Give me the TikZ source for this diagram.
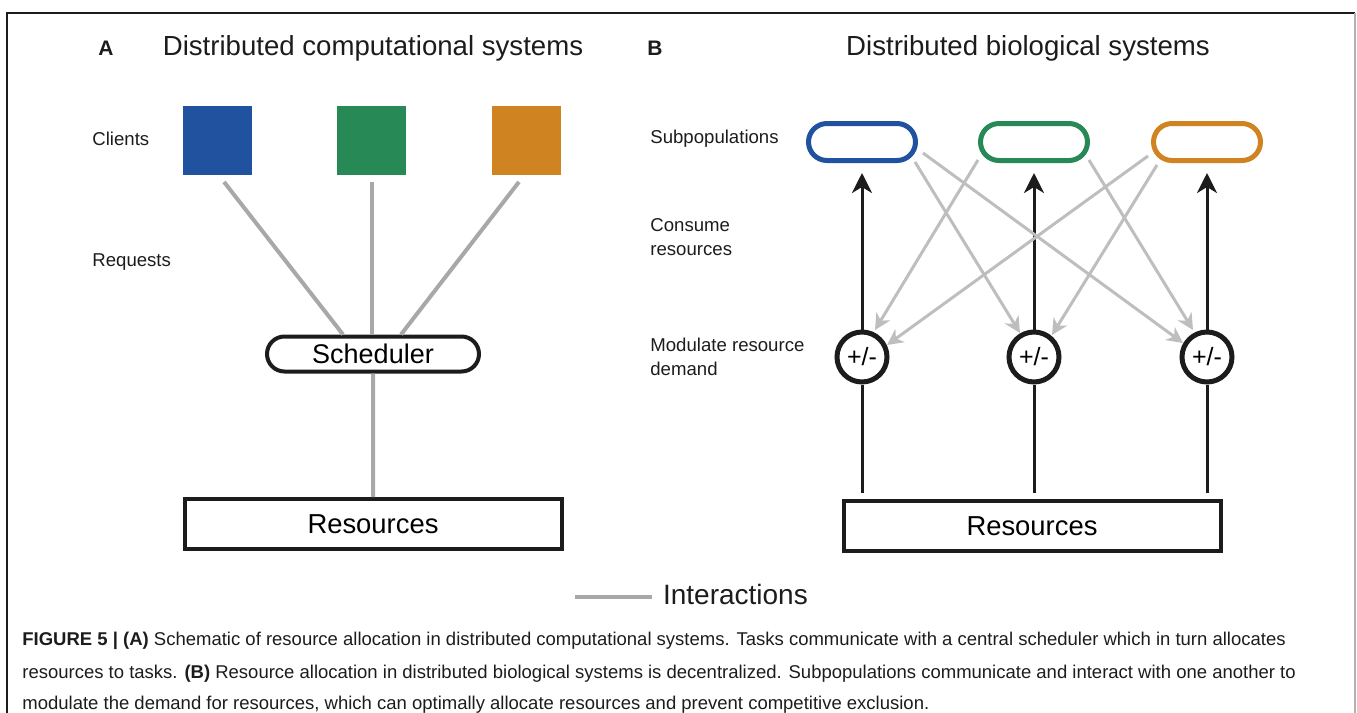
\documentclass[tikz,border=0pt]{standalone}
\usepackage{fontspec}
\setmainfont{Liberation Sans}
\usetikzlibrary{positioning,shapes,arrows.meta,calc}
\definecolor{clientblue}{RGB}{33,82,160}
\definecolor{clientgreen}{RGB}{38,137,86}
\definecolor{clientorange}{RGB}{207,131,33}
\definecolor{linkgray}{RGB}{168,168,168}
\definecolor{feedgray}{RGB}{190,190,190}
\definecolor{inkblack}{RGB}{28,28,28}

\begin{document}
\begin{tikzpicture}[x=0.5pt, y=-0.5pt,
  rowlabel/.style={anchor=base west, text=inkblack, align=left, inner sep=0pt,
    font=\fontsize{9.3}{12}\selectfont},
  paneltitle/.style={anchor=base, text=inkblack, font=\fontsize{13.8}{16}\selectfont},
  panelletter/.style={anchor=base, text=inkblack, font=\fontsize{10.5}{12}\selectfont\bfseries},
  captionline/.style={anchor=base west, text=inkblack, inner sep=0pt,
    font=\fontsize{9.25}{11}\selectfont},
  client/.style={rectangle, minimum size=34.5pt, inner sep=0pt},
  hub/.style={rounded rectangle, draw=inkblack, line width=2pt, minimum width=106pt,
    minimum height=17.5pt, inner sep=0pt, font=\fontsize{13.5}{16}\selectfont},
  resbox/.style={rectangle, draw=inkblack, line width=2pt, minimum width=188.5pt,
    minimum height=25pt, inner sep=0pt, font=\fontsize{13.7}{16}\selectfont},
  subpop/.style={rounded rectangle, line width=2.5pt, minimum width=53.5pt,
    minimum height=18.5pt, inner sep=0pt},
  modnode/.style={circle, draw=inkblack, line width=2.5pt, minimum size=25pt,
    inner sep=0pt, font=\fontsize{12.5}{14}\selectfont},
  link/.style={draw=linkgray, line width=2pt},
  feed/.style={draw=feedgray, line width=1.5pt,
    -{Stealth[length=8pt, width=8pt, inset=2.5pt]}},
  drive/.style={draw=inkblack, line width=1.5pt},
  supply/.style={drive, -{Stealth[length=10pt, width=10pt, inset=3pt]}}
]
\useasboundingbox (0,0) rectangle (1357,713);

% Frame
\draw[inkblack, line width=1pt] (7,713) -- (7,13) -- (1355,13);
\draw[gray!60, line width=1pt] (1355,13) -- (1355,713);

% Panel A
\node[panelletter] (letA) at (106,55) {A};
\node[paneltitle] (titleA) at (373,55) {Distributed computational systems};
\node[rowlabel] (lclients) at (92,145) {Clients};
\node[rowlabel] (lrequests) at (92,266) {Requests};

\node[client, fill=clientblue] (c1) at (217,140) {};
\node[client, fill=clientgreen] (c2) at (371,140) {};
\node[client, fill=clientorange] (c3) at (526,140) {};

\node[hub] (sched) at (373,354) {Scheduler};
\node[resbox] (resA) at (373,524) {Resources};

\draw[link] ($(c1.south)+(7,7)$) -- ($(sched.north)+(-30,0)$);
\draw[link] ($(c2.south)+(1,7)$) -- ($(sched.north)+(-1,0)$);
\draw[link] ($(c3.south)+(-7,7)$) -- ($(sched.north)+(28,0)$);
\draw[link] (sched) -- (resA);

% Panel B
\node[panelletter] (letB) at (655,55) {B};
\node[paneltitle] (titleB) at (1028,55) {Distributed biological systems};
\node[rowlabel] (lsubpop) at (650,143) {Subpopulations};
\node[rowlabel] (lconsume) at (650,255) {Consume\\resources};
\node[rowlabel] (lmodulate) at (650,375) {Modulate resource\\demand};

\node[subpop, draw=clientblue] (s1) at (862,142) {};
\node[subpop, draw=clientgreen] (s2) at (1034,142) {};
\node[subpop, draw=clientorange] (s3) at (1207,142) {};

\node[modnode] (m1) at (862,357) {+/-};
\node[modnode] (m2) at (1034,357) {+/-};
\node[modnode] (m3) at (1207,357) {+/-};

\node[resbox] (resB) at (1032,526) {Resources};

% resources up to the modulators, then on to the subpopulations
\foreach \i in {1,2,3} {
  \draw[drive, shorten >=3pt] (m\i.south) -- (m\i |- resB.north);
  \draw[supply, shorten >=5pt] (m\i.north) -- (s\i.south);
}

% cross feedback between subpopulations
\draw[feed] ($(s1)+(53,20)$) -- ($(m2)+(-14,-24)$);
\draw[feed] ($(s1)+(61,11)$) -- ($(m3)+(-24,-14)$);
\draw[feed] ($(s2)+(-56,18)$) -- ($(m1)+(13,-27)$);
\draw[feed] ($(s2)+(55,18)$) -- ($(m3)+(-14,-27)$);
\draw[feed] ($(s3)+(-59,14)$) -- ($(m1)+(25,-12)$);
\draw[feed] ($(s3)+(-50,23)$) -- ($(m2)+(18,-22)$);

% Legend
\coordinate (legstart) at (575,597);
\node[anchor=west, text=inkblack, font=\fontsize{14}{16}\selectfont] (legtext) at (656,594) {Interactions};
\draw[link] (legstart) -- ($(legstart -| legtext.west)+(-4,0)$);

% Caption
\node[captionline] (cap1) at (22,645)
  {\textbf{FIGURE 5 | (A)} Schematic of resource allocation in distributed computational systems. Tasks communicate with a central scheduler which in turn allocates};
\node[captionline] (cap2) at (22,678)
  {resources to tasks. \textbf{(B)} Resource allocation in distributed biological systems is decentralized. Subpopulations communicate and interact with one another to};
\node[captionline] (cap3) at (22,709)
  {modulate the demand for resources, which can optimally allocate resources and prevent competitive exclusion.};

\end{tikzpicture}
\end{document}
